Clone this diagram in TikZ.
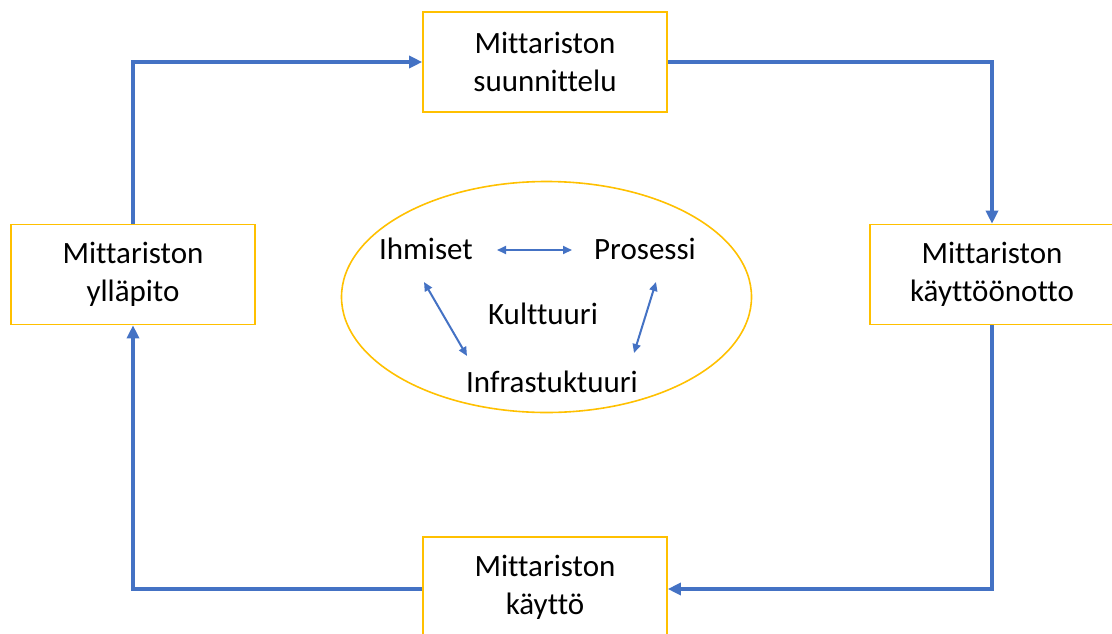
\documentclass[tikz,border=0pt]{standalone}
\usepackage{fontspec}
\setmainfont[Ligatures=NoCommon]{Carlito}
\usetikzlibrary{arrows.meta,shapes.geometric}
\definecolor{gold}{HTML}{FFC000}
\definecolor{blu}{HTML}{4472C4}
\begin{document}
\begin{tikzpicture}[x=1pt,y=-1pt,
  box/.style={draw=gold,line width=1.6pt,minimum width=244pt,minimum height=100pt,inner sep=0pt,align=center,font=\fontsize{31}{37.8}\selectfont},
  lbl/.style={inner sep=0pt,font=\fontsize{31}{37.8}\selectfont},
  flow/.style={draw=blu,line width=3.2pt,-{Triangle[length=13pt,width=12pt]}},
  link/.style={draw=blu,line width=2pt,{Triangle[length=9pt,width=8pt]}-{Triangle[length=9pt,width=8pt]}}]
\useasboundingbox (0,0) rectangle (1112,633);
\node[box] (top) at (545,62) {Mittariston\\suunnittelu};
\node[box] (right) at (992,274.5) {Mittariston\\käyttöönotto};
\node[box] (bottom) at (545,587) {Mittariston\\käyttö};
\node[box] (left) at (133,274.5) {Mittariston\\ylläpito};
\node[draw=gold,line width=1.6pt,ellipse,minimum width=410pt,minimum height=231pt,inner sep=0pt] (ell) at (546.5,297) {};
\node[lbl] (ih) at (426,249) {Ihmiset};
\node[lbl] (pr) at (645,249) {Prosessi};
\node[lbl] (ku) at (543,314) {Kulttuuri};
\node[lbl] (inf) at (552,382) {Infrastuktuuri};
\coordinate (c1) at (133,62);
\coordinate (c2) at (992,62);
\coordinate (c3) at (992,589);
\coordinate (c4) at (133,589);
\draw[flow] (left.north) -- (c1) -- (top.west);
\draw[flow] (top.east) -- (c2) -- (right.north);
\draw[flow] (right.south) -- (c3) -- (bottom.east |- c3);
\draw[flow] (bottom.west |- c4) -- (c4) -- (left.south);
\coordinate (a1) at (497,250);
\coordinate (a2) at (572,250);
\coordinate (b1) at (424,282);
\coordinate (b2) at (467,356);
\coordinate (d1) at (656,282);
\coordinate (d2) at (634,353);
\draw[link] (a1) -- (a2);
\draw[link] (b1) -- (b2);
\draw[link] (d1) -- (d2);
\end{tikzpicture}
\end{document}
